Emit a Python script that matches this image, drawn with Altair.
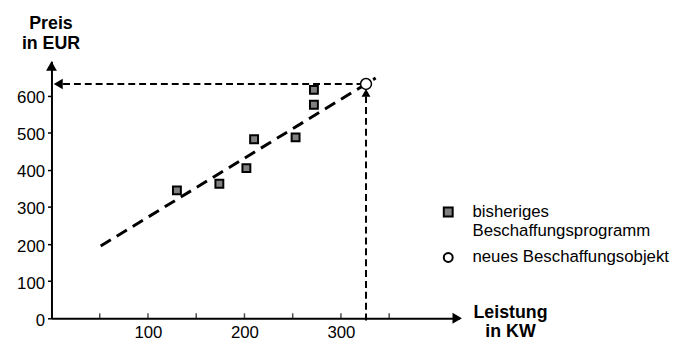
import altair as alt
import pandas as pd

# ---------------- data ----------------
leistung_bisher = [130, 174, 202, 210, 253, 272, 272]
preis_bisher = [345, 363, 405, 483, 488, 576, 616]
leistung_neu = [326]
preis_neu = [632]
trend_leistung = [51, 336]
trend_preis = [195, 648]
x_tick_values = [50, 100, 150, 200, 250, 300, 350]
x_label_values = [100, 200, 300]
y_label_values = [0, 100, 200, 300, 400, 500, 600]
legend_labels = ["bisheriges|Beschaffungsprogramm", "neues Beschaffungsobjekt"]
x_max = 423
y_max = 693
# helper lines / arrowheads (data units)
h_line_x = [326, 12]
h_line_y = [632, 632]
v_line_x = [326, 326]
v_line_y = [-6, 598]
arrow_x = [7, 326, 0, 420.5]
arrow_y = [632, 608, 680.5, 0]
arrow_shape = ["triangle-left", "triangle-up", "triangle-up", "triangle-right"]
arrow_size = [110, 81, 121, 121]

FONT = "Liberation Sans"

bisher = pd.DataFrame({"x": leistung_bisher, "y": preis_bisher, "serie": legend_labels[0]})
neu = pd.DataFrame({"x": leistung_neu, "y": preis_neu, "serie": legend_labels[1]})
trend = pd.DataFrame({"x": trend_leistung, "y": trend_preis})
hline = pd.DataFrame({"x": h_line_x, "y": h_line_y})
vline = pd.DataFrame({"x": v_line_x, "y": v_line_y})
arrows = pd.DataFrame({"x": arrow_x, "y": arrow_y, "shape": arrow_shape, "size": arrow_size})
xticks = pd.DataFrame({"x": x_tick_values, "y": [0] * len(x_tick_values)})

xscale = alt.Scale(domain=[0, x_max], nice=False, zero=False)
yscale = alt.Scale(domain=[0, y_max], nice=False, zero=False)

xaxis = alt.Axis(
    values=x_label_values, grid=False, ticks=True, tickSize=0,
    domainColor="black", domainWidth=2,
    labelFontSize=17, labelFont=FONT, labelColor="black", labelPadding=6,
    title=["Leistung", "in KW"], titleFont=FONT, titleFontSize=18, titleFontWeight="bold",
    titleColor="black", titleAngle=0, titleAlign="center", titleBaseline="alphabetic",
    titleX=464, titleY=-1, titleLineHeight=19,
)
yaxis = alt.Axis(
    values=y_label_values, grid=False, ticks=True, tickSize=4, tickColor="black", tickWidth=1.5,
    domainColor="black", domainWidth=2,
    labelFontSize=17, labelFont=FONT, labelColor="black", labelPadding=3, labelOffset=2,
    title=["Preis", "in EUR"], titleFont=FONT, titleFontSize=18, titleFontWeight="bold",
    titleColor="black", titleAngle=0, titleAlign="center", titleBaseline="alphabetic",
    titleX=-1, titleY=-33, titleLineHeight=20,
)

X = alt.X("x:Q", scale=xscale, axis=xaxis)
Y = alt.Y("y:Q", scale=yscale, axis=yaxis)

legend = alt.Legend(
    title=None, orient="none", legendX=393, legendY=144, padding=0,
    labelExpr="split(datum.label, '|')", labelFont=FONT, labelFontSize=17,
    labelColor="black", labelLimit=400, labelOffset=16, labelBaseline="middle",
    symbolStrokeColor="black", symbolStrokeWidth=2, symbolSize=81, symbolOpacity=1,
    rowPadding=9,
)
shape_scale = alt.Scale(domain=legend_labels, range=["square", "circle"])
fill_scale = alt.Scale(domain=legend_labels, range=["#808080", "white"])
stroke_scale = alt.Scale(domain=legend_labels, range=["black", "black"])

h_layer = alt.Chart(hline).mark_line(color="black", strokeWidth=2, strokeDash=[7, 4]).encode(x=X, y=Y)
v_layer = alt.Chart(vline).mark_line(color="black", strokeWidth=2, strokeDash=[7, 4]).encode(x=X, y=Y)
trend_layer = alt.Chart(trend).mark_line(color="black", strokeWidth=3, strokeDash=[12, 7]).encode(x=X, y=Y)
arrow_layer = alt.Chart(arrows).mark_point(filled=True, color="black", opacity=1).encode(
    x=X, y=Y,
    shape=alt.Shape("shape:N", scale=None),
    size=alt.Size("size:Q", scale=None),
)
tick_layer = alt.Chart(xticks).mark_tick(
    orient="vertical", color="black", thickness=1.5, size=5, yOffset=-2.5
).encode(x=X, y=Y)


def series_encoding():
    return dict(
        shape=alt.Shape("serie:N", scale=shape_scale, legend=legend),
        fill=alt.Fill("serie:N", scale=fill_scale, legend=legend),
        stroke=alt.Stroke("serie:N", scale=stroke_scale, legend=legend),
    )


square_layer = alt.Chart(bisher).mark_point(
    filled=True, strokeWidth=2, size=64, opacity=1
).encode(x=X, y=Y, **series_encoding())
circle_layer = alt.Chart(neu).mark_point(
    filled=True, strokeWidth=1.5, size=121, opacity=1
).encode(x=X, y=Y, **series_encoding())

chart = alt.layer(
    h_layer, v_layer, trend_layer, arrow_layer, tick_layer, square_layer, circle_layer
).properties(
    width=413, height=260,
    autosize=alt.AutoSizeParams(type="none"),
    padding={"left": 44, "top": 52, "right": 221, "bottom": 22},
    background="white",
).configure_view(stroke=None)

chart.save("out.html", embed_options={"renderer": "svg", "actions": False})
